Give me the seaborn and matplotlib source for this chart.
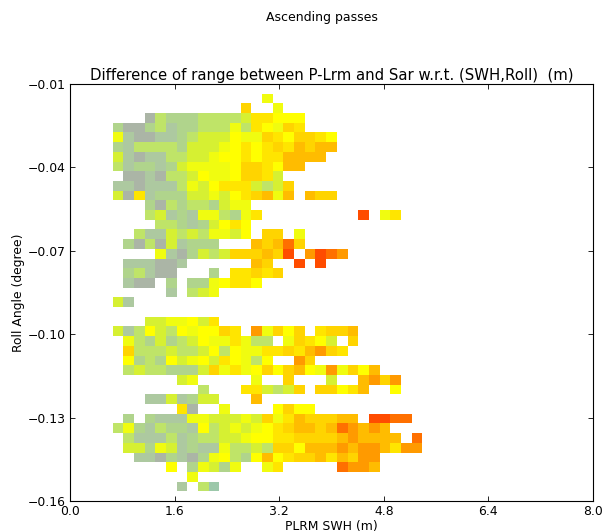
import matplotlib
matplotlib.use('Agg')
import matplotlib.pyplot as plt
from matplotlib.colors import ListedColormap
import numpy as np
import pandas as pd
import seaborn as sns

# one string per roll bin (top to bottom), one character per SWH bin, '.' = no data
# t is the lowest level, then 0-9, a, b, c going up
cell_rows = [
    "",
    "..................5",
    "................8..5",
    ".......032223333477666",
    "....200231223335376587",
    "....510011234446558768876",
    "....213333244456767879899",
    "....41011334456676779999",
    "....312212455556887699",
    ".....001033465568874",
    "....11011135467774348",
    "....40712224454678959.988",
    ".......2032332455",
    ".......34121553257.........c.57",
    "........332124676",
    "......31143435546.88.5",
    ".....203041222...989b8",
    "........510243488898c.acba",
    ".....111001......98..c.c",
    ".....23100...2.77878",
    ".....100.2.2256776",
    ".........1.345",
    "....41",
    "",
    ".......4455647",
    "....413643656687.a5868.7889",
    ".....53242346557533.58764.8",
    ".....833343346365577879a87",
    ".....62326456476536..a8",
    ".....3433222485756868965a5869",
    "..........45.....5..8...4..9a8a",
    "............3...774348.88679..6",
    ".......1141244...9",
    "..........70..5....6866",
    ".....2.21115544454857988899.ccbb",
    "....352132216345456789989ba9a9",
    ".....311131233445667788889a9999.b",
    ".....44254121153343886999a9aa97aa",
    "......110210256326967889798aa",
    ".........6.25425..57.....baa9",
    "...........5",
    "..........1.3t",
    "",
]
level_codes = "t0123456789abc"
level_colors = ['#9cc8aa', '#abb5a6', '#adc9a0', '#b0d48c', '#bfe468', '#d6f032', '#f0fc10',
                '#ffff00', '#ffe500', '#ffd400', '#ffbc00', '#ff9a00', '#ff7000', '#ff4c00']
x_ticks = [0.0, 1.6, 3.2, 4.8, 6.4, 8.0]
y_ticks = [-0.01, -0.04, -0.07, -0.10, -0.13, -0.16]
n_cols = 49


def build_grid() -> pd.DataFrame:
    """Turn the coded rows into a numeric table"""
    rows = []
    for row in cell_rows:
        row = row.ljust(n_cols, '.')
        rows.append([level_codes.index(c) if c != '.' else np.nan for c in row])
    return pd.DataFrame(rows)


def main():
    grid = build_grid()
    fig = plt.figure(figsize=(6.05, 5.32), dpi=100)
    ax = fig.add_axes([70 / 605, 1 - 501 / 532, 523 / 605, 417 / 532])

    sns.heatmap(grid, ax=ax, cmap=ListedColormap(level_colors), vmin=-0.5, vmax=13.5,
                cbar=False, xticklabels=False, yticklabels=False)

    for spine in ax.spines.values():
        spine.set_visible(True)
        spine.set_linewidth(0.8)
        spine.set_color('black')

    ax.set_xticks([t / 8.0 * grid.shape[1] for t in x_ticks])
    ax.set_xticklabels(['%.1f' % t for t in x_ticks])
    ax.set_yticks([(-0.01 - t) / 0.15 * grid.shape[0] for t in y_ticks])
    ax.set_yticklabels(['\u2212%.2f' % abs(t) for t in y_ticks], rotation=0)
    ax.tick_params(direction='in', length=3.5, width=0.6, labelsize=8.9,
                   top=True, right=True, bottom=True, left=True, pad=3)

    ax.set_xlabel('PLRM SWH (m)', fontsize=8.9, labelpad=1)
    ax.set_ylabel('Roll Angle (degree)', fontsize=8.9, labelpad=2)
    ax.set_title('Difference of range between P-Lrm and Sar w.r.t. (SWH,Roll)  (m)',
                 fontsize=10.75, pad=3)
    fig.text(322 / 605, 1 - 17 / 532, 'Ascending passes', ha='center', va='center', fontsize=9)

    fig.savefig('out.png', dpi=100)


if __name__ == "__main__":
    main()
